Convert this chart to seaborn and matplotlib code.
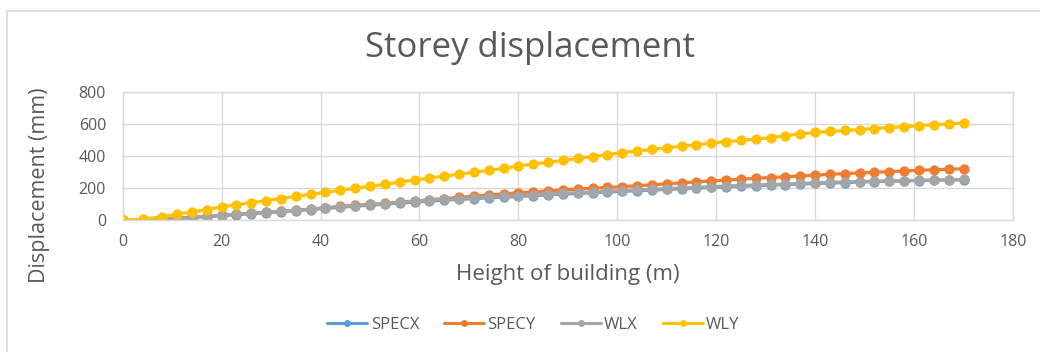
import matplotlib
matplotlib.use("Agg")
import matplotlib.pyplot as plt
import seaborn as sns
import pandas as pd
from matplotlib.patches import Rectangle

# Storey heights (m)
height = [0, 4, 8, 11, 14, 17, 20, 23, 26, 29, 32, 35, 38, 41, 44, 47, 50, 53, 56,
          59, 62, 65, 68, 71, 74, 77, 80, 83, 86, 89, 92, 95, 98, 101, 104, 107,
          110, 113, 116, 119, 122, 125, 128, 131, 134, 137, 140, 143, 146, 149,
          152, 155, 158, 161, 164, 167, 170]

# Storey displacements (mm) per load case
specx = [0, 1, 5, 10, 15, 21, 28, 34, 40, 46, 52, 58, 65, 72, 80, 86, 93, 99, 106,
         112, 118, 124, 129, 134, 139, 143, 147, 152, 157, 162, 166, 170, 175, 179,
         183, 187, 191, 195, 199, 203, 207, 211, 214, 218, 221, 224, 228, 231, 234,
         237, 240, 242, 244, 246, 248, 250, 252]
specy = [0, 2, 6, 12, 17, 23, 30, 36, 42, 48, 55, 61, 68, 76, 85, 91, 98, 104, 111,
         119, 126, 134, 141, 149, 156, 163, 170, 176, 182, 188, 193, 198, 203, 208,
         214, 220, 226, 232, 238, 244, 250, 255, 260, 265, 270, 275, 280, 285, 290,
         294, 298, 302, 306, 310, 314, 317, 320]
wlx = [0, 2, 6, 12, 17, 23, 30, 36, 42, 48, 55, 61, 68, 76, 84, 90, 97, 103, 110,
       117, 123, 129, 134, 139, 144, 148, 152, 157, 162, 167, 171, 175, 180, 184,
       188, 192, 196, 200, 204, 208, 212, 216, 219, 222, 225, 228, 232, 235, 238,
       240, 242, 244, 246, 248, 250, 251, 253]
wly = [0, 5, 20, 38, 50, 65, 82, 95, 108, 121, 134, 147, 160, 173, 186, 198, 211,
       223, 236, 250, 262, 274, 286, 298, 310, 322, 338, 349, 360, 372, 384, 396,
       408, 421, 431, 441, 451, 461, 470, 480, 489, 497, 505, 514, 527, 537, 547,
       553, 559, 565, 571, 577, 583, 589, 595, 600, 606]

series_names = ["SPECX", "SPECY", "WLX", "WLY"]
colors = ["#5B9BD5", "#ED7D31", "#A5A5A5", "#FFC000"]

frames = []
for name, vals in zip(series_names, [specx, specy, wlx, wly]):
    frames.append(pd.DataFrame({"Height": height, "Displacement": vals, "Case": name}))
df = pd.concat(frames, ignore_index=True)

sns.set_style("white")
plt.rcParams["font.family"] = ["Open Sans", "DejaVu Sans"]

fig = plt.figure(figsize=(10.4, 3.52), dpi=100)
ax = fig.add_axes([0.118, 0.375, 0.856, 0.364])

sns.lineplot(data=df, x="Height", y="Displacement", hue="Case",
             palette=dict(zip(series_names, colors)), hue_order=series_names,
             marker="o", markersize=7.4, markeredgewidth=0, linewidth=2.3,
             ax=ax, legend=False, sort=False)

ax.set_xlim(0, 180)
ax.set_ylim(0, 800)
ax.set_xticks(range(0, 181, 20))
ax.set_yticks(range(0, 801, 200))
ax.grid(True, color="#d9d9d9", linewidth=1)
ax.set_axisbelow(True)
for sp in ax.spines.values():
    sp.set_color("#d9d9d9")
    sp.set_linewidth(1)
ax.tick_params(axis="both", length=0, labelsize=11.5, labelcolor="#595959")
ax.tick_params(axis="x", pad=10)
ax.tick_params(axis="y", pad=12)

ax.set_xlabel("Height of building (m)", fontsize=16, color="#595959", labelpad=10)
ax.set_ylabel("Displacement (mm)", fontsize=15.5, color="#595959")
ax.yaxis.set_label_coords(-0.082, 0.27)
fig.text(0.51, 0.864, "Storey displacement", ha="center", va="center",
         fontsize=25, color="#595959")

handles = [plt.Line2D([], [], color=c, marker="o", markersize=5, linewidth=2.2,
                      markeredgewidth=0) for c in colors]
fig.legend(handles, series_names, loc="center", bbox_to_anchor=(0.513, 0.077),
           ncol=4, frameon=False, fontsize=12, handlelength=2.4,
           columnspacing=1.5, handletextpad=0.2, labelcolor="#595959")

# Chart-area border
fig.patches.append(Rectangle((7 / 1040, -0.1), 1.2, 1 - 11 / 352 + 0.1,
                             transform=fig.transFigure, fill=False,
                             edgecolor="#d9d9d9", linewidth=1.2))

fig.savefig("out.png", dpi=100, facecolor="white")
